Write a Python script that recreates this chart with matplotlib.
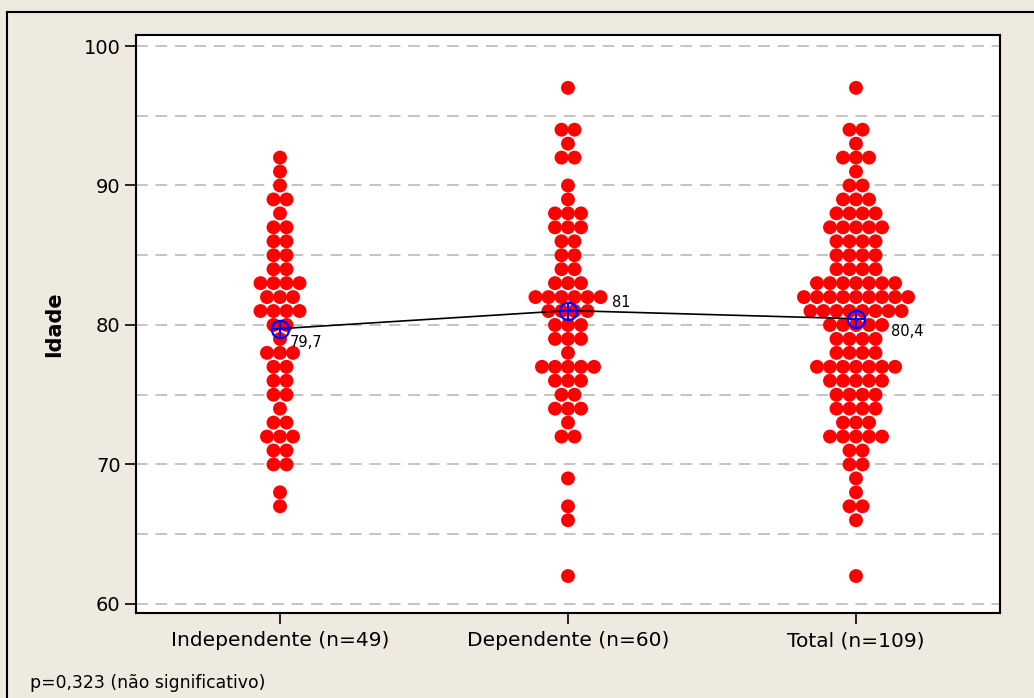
import matplotlib.pyplot as plt
import numpy as np


# values: age -> number of dots in that row
indepAges = [92, 91, 90, 89, 88, 87, 86, 85, 84, 83, 82, 81, 80, 79, 78, 77, 76, 75, 74, 73, 72, 71, 70, 68, 67]
indepCounts = [1, 1, 1, 2, 1, 2, 2, 2, 2, 4, 3, 4, 2, 1, 3, 2, 2, 2, 1, 2, 3, 2, 2, 1, 1]

depAges = [97, 94, 93, 92, 90, 89, 88, 87, 86, 85, 84, 83, 82, 81, 80, 79, 78, 77, 76, 75, 74, 73, 72, 69, 67, 66, 62]
depCounts = [1, 2, 1, 2, 1, 1, 3, 3, 2, 2, 2, 3, 6, 4, 3, 3, 1, 5, 3, 2, 3, 1, 2, 1, 1, 1, 1]

totalAges = [97, 94, 93, 92, 91, 90, 89, 88, 87, 86, 85, 84, 83, 82, 81, 80, 79, 78, 77, 76, 75, 74, 73, 72, 71, 70, 69, 68, 67, 66, 62]
totalCounts = [1, 2, 1, 3, 1, 2, 3, 4, 5, 4, 4, 4, 7, 9, 8, 5, 4, 4, 7, 5, 4, 4, 3, 5, 2, 2, 1, 1, 2, 1, 1]

categories = ['Independente (n=49)', 'Dependente (n=60)', 'Total (n=109)']
meanLabels = ['79,7', '81', '80,4']
yTicks = [60, 70, 80, 90, 100]

groups = [(indepAges, indepCounts), (depAges, depCounts), (totalAges, totalCounts)]

bg = '#EEEAE0'
dotStep = 0.0452   # horizontal spacing between stacked dots (data units)

fig = plt.figure(figsize=(10.34, 6.98), dpi=100, facecolor=bg)
ax = fig.add_axes([136 / 1034, 1 - 613 / 698, 864 / 1034, 578 / 698])
ax.set_facecolor('white')

# frame lines of the outer panel (top and left visible)
fig.add_artist(plt.Line2D([7 / 1034, 1], [1 - 12 / 698, 1 - 12 / 698], color='black', lw=1.5))
fig.add_artist(plt.Line2D([7 / 1034, 7 / 1034], [0, 1 - 12 / 698], color='black', lw=1.5))

for g in np.arange(60, 101, 5):
    ax.axhline(g, color='#C4C4C4', lw=1.4, dashes=(6, 4), zorder=0)

means = []
for i, (ages, counts) in enumerate(groups):
    xs, ys = [], []
    for a, c in zip(ages, counts):
        for k in range(c):
            xs.append(i + 1 + (k - (c - 1) / 2) * dotStep)
            ys.append(a)
    ax.scatter(xs, ys, s=100, color='#FF0000', edgecolors='none', zorder=2)
    means.append(np.average(ages, weights=counts))

xPos = np.arange(1, 4)
ax.plot(xPos, means, color='black', lw=1.2, zorder=3)
ax.plot(xPos, means, 'o', ms=12.5, mfc='none', mec='#0000FF', mew=1.6, zorder=4)
ax.plot(xPos, means, '+', ms=12.5, mec='#0000FF', mew=1.6, zorder=4)

offsets = [(7, -10), (32, 6), (25, -9)]
for x, m, lab, off in zip(xPos, means, meanLabels, offsets):
    ax.annotate(lab, (x, m), xytext=off, textcoords='offset points',
                fontsize=10.5, va='center', ha='left', zorder=5)

ax.set_xlim(0.5, 3.5)
ax.set_ylim(59.35, 100.79)
ax.set_yticks(yTicks)
ax.set_xticks(xPos)
ax.set_xticklabels(categories)
ax.tick_params(axis='both', direction='out', length=8, width=1.2, pad=3)
ax.tick_params(axis='y', labelsize=14)
ax.tick_params(axis='x', labelsize=14.5, pad=5)
for s in ax.spines.values():
    s.set_linewidth(1.5)

ax.set_ylabel('Idade', fontsize=15, fontweight='bold', labelpad=14)

fig.text(30 / 1034, 1 - 683 / 698, 'p=0,323 (não significativo)', fontsize=12.4, va='center', ha='left')

plt.savefig('out.png', dpi=100, facecolor=bg)
plt.close()
